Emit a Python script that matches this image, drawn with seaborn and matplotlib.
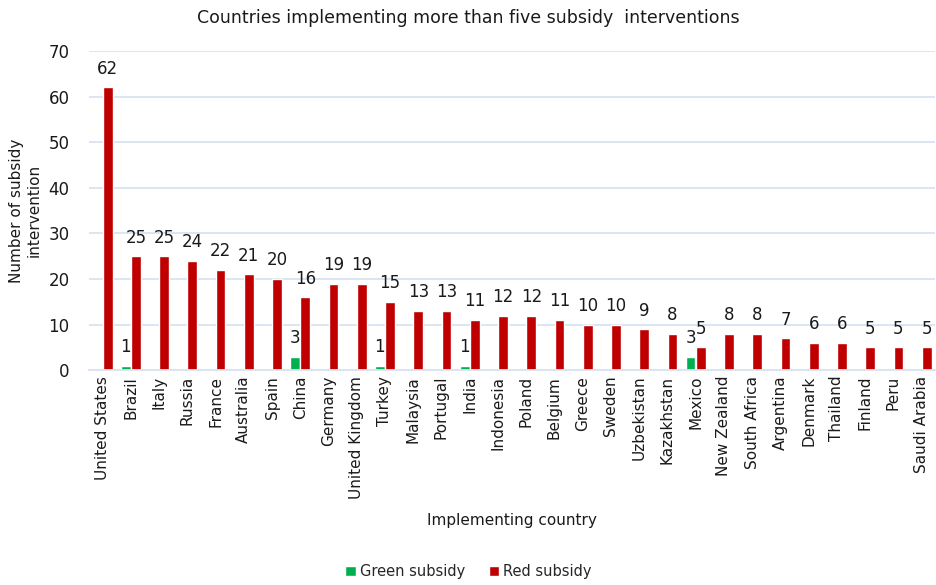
"""Countries implementing more than five subsidy interventions (grouped bars)."""

import matplotlib.pyplot as plt
import pandas as pd
import seaborn as sns

countries = [
    "United States", "Brazil", "Italy", "Russia", "France", "Australia",
    "Spain", "China", "Germany", "United Kingdom", "Turkey", "Malaysia",
    "Portugal", "India", "Indonesia", "Poland", "Belgium", "Greece",
    "Sweden", "Uzbekistan", "Kazakhstan", "Mexico", "New Zealand",
    "South Africa", "Argentina", "Denmark", "Thailand", "Finland", "Peru",
    "Saudi Arabia",
]
green_subsidy = [0, 1, 0, 0, 0, 0, 0, 3, 0, 0, 1, 0, 0, 1, 0,
                 0, 0, 0, 0, 0, 0, 3, 0, 0, 0, 0, 0, 0, 0, 0]
red_subsidy = [62, 25, 25, 24, 22, 21, 20, 16, 19, 19, 15, 13, 13, 11, 12,
               12, 11, 10, 10, 9, 8, 5, 8, 8, 7, 6, 6, 5, 5, 5]
series_names = ["Green subsidy", "Red subsidy"]
y_ticks = [0, 10, 20, 30, 40, 50, 60, 70]

palette = {"Green subsidy": "#00B050", "Red subsidy": "#C00000"}
grid_color = "#D9E3F1"
text_color = "#1a1a1a"

sns.set_theme(style="white")
plt.rcParams["font.family"] = ["DejaVu Sans"]
plt.rcParams["font.size"] = 11

df = pd.DataFrame(
    {
        "country": countries * 2,
        "series": [series_names[0]] * len(countries) + [series_names[1]] * len(countries),
        "value": green_subsidy + red_subsidy,
    }
)

fig = plt.figure(figsize=(9.37, 5.85), dpi=100)
ax = fig.add_axes([0.095, 0.367, 0.903, 0.546])

sns.barplot(
    data=df, x="country", y="value", hue="series", order=countries,
    hue_order=series_names, palette=palette, width=0.72, gap=0.04,
    saturation=1, ax=ax, legend=True,
)

for container, vals in zip(ax.containers, [green_subsidy, red_subsidy]):
    ax.bar_label(
        container, labels=[str(v) if v > 0 else "" for v in vals],
        padding=7, fontsize=12, color=text_color,
    )

ax.set_ylim(0, 70)
ax.set_yticks(y_ticks)
ax.set_xlim(-0.48, len(countries) - 0.52)
ax.yaxis.grid(True, color=grid_color, linewidth=1.3)
ax.set_axisbelow(True)
for side in ["top", "right", "left"]:
    ax.spines[side].set_visible(False)
ax.spines["bottom"].set_color(grid_color)
ax.spines["bottom"].set_linewidth(1.3)
ax.tick_params(axis="both", length=0, colors=text_color)
ax.tick_params(axis="y", pad=14, labelsize=12)
ax.tick_params(axis="x", pad=4, labelsize=11)
plt.setp(ax.get_xticklabels(), rotation=90)

ax.set_xlabel("Implementing country", fontsize=11, labelpad=10, color=text_color)
ax.set_ylabel("Number of subsidy\nintervention", fontsize=11, color=text_color)
ax.yaxis.set_label_coords(-0.056, 0.5)
fig.suptitle(
    "Countries implementing more than five subsidy  interventions",
    fontsize=12.5, y=0.985, color=text_color,
)

handles, labels = ax.get_legend_handles_labels()
ax.legend_.remove()
fig.legend(
    handles, labels, loc="center", bbox_to_anchor=(0.5, 0.023), ncol=2,
    frameon=False, fontsize=10.5, handlelength=0.7, handleheight=0.7,
    handletextpad=0.3, columnspacing=1.6,
)

fig.savefig("out.png", dpi=100)
plt.close(fig)
